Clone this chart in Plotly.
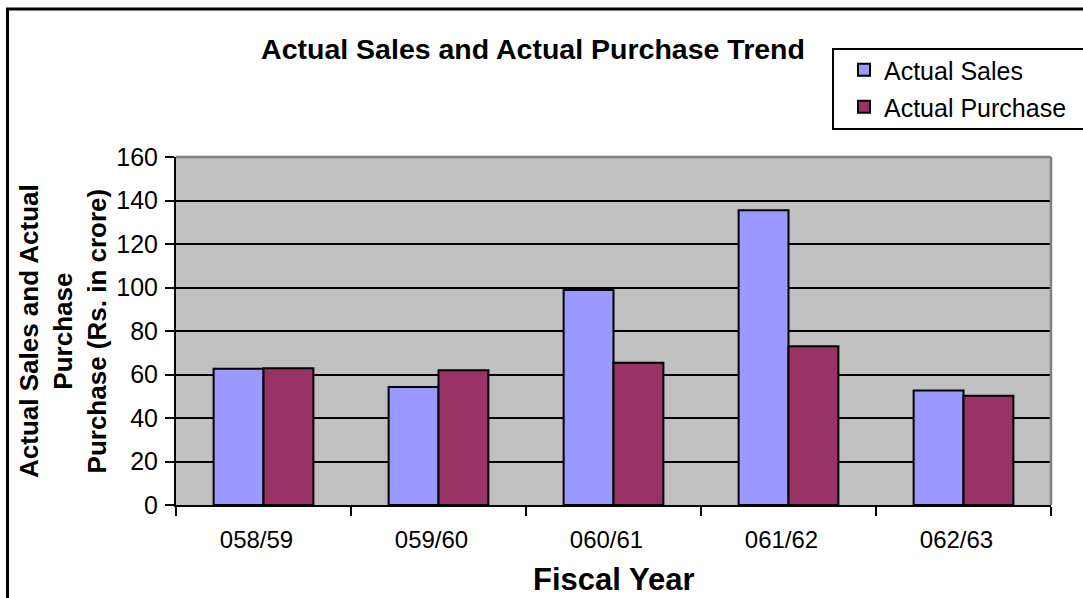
import plotly.graph_objects as go

# Fiscal years and yearly totals (Rs. in crore)
fiscal_years = ["058/59", "059/60", "060/61", "061/62", "062/63"]
actual_sales = [62.7, 54.2, 98.8, 135.5, 52.7]
actual_purchase = [62.9, 61.9, 65.4, 73.0, 50.2]
y_ticks = [0, 20, 40, 60, 80, 100, 120, 140, 160]

FONT = "Arial, Liberation Sans, sans-serif"
W, H = 1083, 598
L, R, T, B = 176, 32, 157, 93
PW, PH = W - L - R, H - T - B


def px_x(x):
    return (x - L) / PW


def px_y(y):
    return (H - B - y) / PH


fig = go.Figure()
fig.add_trace(go.Bar(
    x=fiscal_years, y=actual_sales, name="Actual Sales",
    marker=dict(color="#9999FF", line=dict(color="black", width=2)),
    legend="legend2", showlegend=True,
))
fig.add_trace(go.Bar(
    x=fiscal_years, y=actual_purchase, name="Actual Purchase",
    marker=dict(color="#993366", line=dict(color="black", width=2)),
    legend="legend3", showlegend=True,
))

legend_common = dict(
    xanchor="left", yanchor="middle",
    font=dict(family=FONT, size=25, color="black"),
    bgcolor="rgba(0,0,0,0)", borderwidth=0,
    itemclick=False,
)

fig.update_layout(
    width=W, height=H,
    margin=dict(l=L, r=R, t=T, b=B, autoexpand=False),
    paper_bgcolor="white",
    plot_bgcolor="#C0C0C0",
    barmode="group",
    bargap=0.43,
    bargroupgap=0,
    showlegend=True,
    font=dict(family=FONT, color="black"),
    title=dict(
        text="<b>Actual Sales and Actual Purchase Trend</b>",
        x=533 / W, xref="container", xanchor="center",
        y=1 - 49 / H, yref="container", yanchor="middle",
        font=dict(family=FONT, size=28.5, color="black"),
    ),
    legend2=dict(x=px_x(844), y=px_y(70), **legend_common),
    legend3=dict(x=px_x(844), y=px_y(107), **legend_common),
    xaxis=dict(
        type="category",
        tickson="boundaries",
        ticks="outside", ticklen=9, tickwidth=2, tickcolor="black",
        showline=True, linecolor="black", linewidth=2,
        showgrid=False,
        tickfont=dict(family=FONT, size=24, color="black"),
        ticklabelstandoff=12,
        ticklabelshift=-7,
    ),
    yaxis=dict(
        range=[0, 160],
        tickvals=y_ticks,
        ticks="outside", ticklen=9, tickwidth=2, tickcolor="black",
        showline=True, linecolor="black", linewidth=2,
        showgrid=True, gridcolor="black", gridwidth=2,
        zeroline=False,
        tickfont=dict(family=FONT, size=25, color="black"),
        ticklabelstandoff=2,
    ),
    annotations=[
        dict(
            text="<b>Actual Sales and Actual<br>Purchase<br>Purchase (Rs. in crore)</b>",
            xref="paper", yref="paper",
            x=px_x(63), y=0.5, xanchor="center", yanchor="middle",
            textangle=-90, showarrow=False,
            font=dict(family=FONT, size=26, color="black"),
        ),
        dict(
            text="<b>Fiscal Year</b>",
            xref="paper", yref="paper",
            x=0.5, y=px_y(579), xanchor="center", yanchor="middle",
            showarrow=False,
            font=dict(family=FONT, size=31, color="black"),
        ),
    ],
    shapes=[
        # plot-area frame (top and right edges in grey)
        dict(type="line", xref="paper", yref="paper", x0=0, x1=1, y0=1, y1=1,
             line=dict(color="#808080", width=2.5), layer="above"),
        dict(type="line", xref="paper", yref="paper", x0=1, x1=1, y0=0, y1=1,
             line=dict(color="#808080", width=2.5), layer="above"),
        # legend box
        dict(type="rect", xref="paper", yref="paper",
             x0=px_x(833), x1=px_x(1095), y0=px_y(129), y1=px_y(49),
             line=dict(color="black", width=2), layer="above"),
        # outer chart frame
        dict(type="rect", xref="paper", yref="paper",
             x0=px_x(7.5), x1=px_x(1100), y0=px_y(610), y1=px_y(9),
             line=dict(color="black", width=3), layer="above"),
    ],
)

fig.write_html("out.html")
